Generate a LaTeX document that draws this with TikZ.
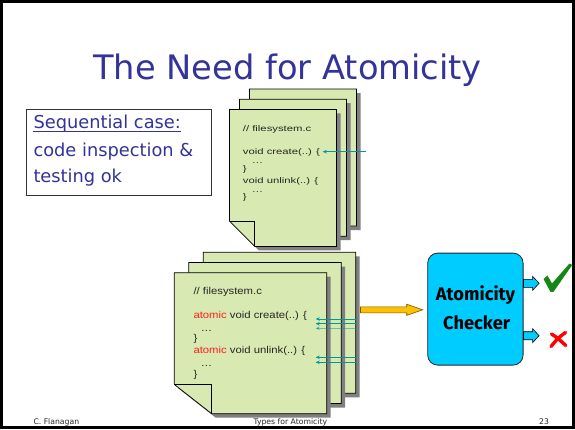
\documentclass[tikz,border=0pt]{standalone}
\usepackage{fontspec}
\usepackage{graphicx}
\setmainfont{DejaVu Sans}
\newfontfamily\codefont{Liberation Sans}
\newfontfamily\checkfont{Fira Sans}
\usetikzlibrary{calc,arrows.meta}

\definecolor{slideblue}{RGB}{51,51,153}
\definecolor{pagegreen}{RGB}{216,233,178}
\definecolor{pageshade}{RGB}{128,128,128}
\definecolor{linkteal}{RGB}{0,153,153}
\definecolor{checkcyan}{RGB}{0,204,255}
\definecolor{feedgold}{RGB}{255,192,0}
\definecolor{feededge}{RGB}{120,90,0}
\definecolor{codered}{RGB}{255,30,30}
\definecolor{okgreen}{RGB}{20,135,20}
\definecolor{badred}{RGB}{255,0,0}

\tikzset{
  pageshadow/.style={fill=pageshade},
  pagesheet/.style={fill=pagegreen,draw=black,line width=0.7pt,line join=miter},
  pagefold/.style={draw=black,line width=0.7pt},
  codeline/.style={inner sep=0pt,anchor=base west,text=black!85,font=\codefont\fontsize{11.3}{12}\selectfont},
  linkarrow/.style={draw=linkteal,line width=0.8pt,-{Stealth[length=4pt,width=3.5pt]}},
  footer/.style={inner sep=0pt,anchor=base west,text=black!85,font=\fontsize{7.7}{9}\selectfont},
  seqline/.style={inner sep=0pt,anchor=base west,text=slideblue,font=\fontsize{17.8}{21}\selectfont},
  checkerlabel/.style={inner sep=0pt,anchor=base,font=\checkfont\bfseries\fontsize{18.3}{22}\selectfont},
  feedarrow/.style={draw=feededge,fill=feedgold,line width=0.6pt,line join=miter},
  outarrow/.style={draw=black,fill=checkcyan,line width=0.6pt,line join=miter},
}

% one sheet of paper with a folded bottom-left corner and a drop shadow
% #1,#2 top-left corner, #3 width, #4 height, #5,#6 size of the fold
\newcommand\papersheet[6]{%
  \fill[pageshadow] (#1+4,#2+4) -- (#1+#3+4,#2+4) -- (#1+#3+4,#2+#4+4)
    -- (#1+#5+4,#2+#4+4) -- (#1+4,#2+#4-#6+4) -- cycle;
  \filldraw[pagesheet] (#1,#2) -- (#1+#3,#2) -- (#1+#3,#2+#4)
    -- (#1+#5,#2+#4) -- (#1,#2+#4-#6) -- cycle;
  \draw[pagefold] (#1,#2+#4-#6) -- (#1+#5,#2+#4-#6) -- (#1+#5,#2+#4);
}

% horizontal block arrow from #2 to #3 (named points), style #1,
% shaft half-width #4, head half-width #5, head length #6 (all in pt)
\newcommand\blockarrow[6]{%
  \filldraw[#1] let \p1=(#2), \p2=(#3) in
    (\x1,\y1+#4pt) -- (\x2-#6pt,\y1+#4pt) -- (\x2-#6pt,\y1+#5pt) -- (\x2,\y1)
    -- (\x2-#6pt,\y1-#5pt) -- (\x2-#6pt,\y1-#4pt) -- (\x1,\y1-#4pt) -- cycle;
}

\begin{document}
\begin{tikzpicture}[x=1pt,y=-1pt]
\useasboundingbox (0,0) rectangle (575,429);
\fill[white] (0,0) rectangle (575,429);

% slide frame
\draw[line width=3pt] (1.5,1.5) rectangle (573.2,427.5);

% title
\node[anchor=base,inner sep=0pt,text=slideblue,font=\fontsize{33.7}{40}\selectfont] (title) at (287.5,79.3) {The Need for Atomicity};

% sequential remark
\fill[black!55] (27.3,110.6) rectangle (212,196.3);
\node[draw=black!80,fill=white,line width=0.7pt,anchor=north west,minimum width=184.7pt,minimum height=85.7pt,inner sep=0pt] (seqbox) at (26,109.3) {};
\node[seqline] (seq1) at (33.3,128.7) {Sequential case:};
\draw[slideblue,line width=0.8pt] ([yshift=-3pt]seq1.base west) -- ([yshift=-3pt]seq1.base east);
\node[seqline] (seq2) at (33.3,156.7) {code inspection \&};
\node[seqline] (seq3) at (33.3,182.7) {testing ok};

% sequential source file
\papersheet{249.5}{89}{107}{137}{25.3}{25.3}
\papersheet{239.5}{99.2}{107}{137}{25.3}{25.3}
\papersheet{229.5}{109.4}{107}{137}{25.3}{25.3}
\node[codeline] (s1) at (242.7,131.5) {\scalebox{1}[0.72]{// filesystem.c}};
\node[codeline] (s2) at (242.7,154.5) {\scalebox{1}[0.72]{void create(..) \{}};
\node[codeline] (s3) at (251.7,163.8) {\scalebox{1}[0.72]{…}};
\node[codeline] (s4) at (242.7,171.8) {\scalebox{1}[0.72]{\}}};
\node[codeline] (s5) at (242.7,183) {\scalebox{1}[0.72]{void unlink(..) \{}};
\node[codeline] (s6) at (251.7,192.3) {\scalebox{1}[0.72]{…}};
\node[codeline] (s7) at (242.7,199.3) {\scalebox{1}[0.72]{\}}};
\coordinate (sq0) at (365.7,151.7);
\coordinate (sq1) at (322.7,151.7);
\draw[linkarrow] (sq0) -- (sq1);

% concurrent source file
\papersheet{203.3}{252.3}{152.4}{141}{37.4}{29.3}
\papersheet{188.8}{262.5}{152.4}{141}{37.4}{29.3}
\papersheet{174.3}{272.7}{152.4}{141}{37.4}{29.3}
\node[codeline] (c1) at (193.3,294.5) {\scalebox{1}[0.88]{// filesystem.c}};
\node[codeline] (c2) at (193.3,318) {\scalebox{1}[0.88]{\textcolor{codered}{atomic} void create(..) \{}};
\node[codeline] (c3) at (200.7,331) {\scalebox{1}[0.88]{…}};
\node[codeline] (c4) at (193.3,341.5) {\scalebox{1}[0.88]{\}}};
\node[codeline] (c5) at (193.3,353) {\scalebox{1}[0.88]{\textcolor{codered}{atomic} void unlink(..) \{}};
\node[codeline] (c6) at (200.7,366.7) {\scalebox{1}[0.88]{…}};
\node[codeline] (c7) at (193.3,377.5) {\scalebox{1}[0.88]{\}}};
\coordinate (t1a) at (356.7,319);   \coordinate (t1b) at (315.7,319);
\coordinate (t2a) at (356.7,323.7); \coordinate (t2b) at (315.7,323.7);
\coordinate (t3a) at (356.7,328.3); \coordinate (t3b) at (315.7,328.3);
\coordinate (t4a) at (356.7,357.3); \coordinate (t4b) at (315.7,357.3);
\coordinate (t5a) at (356.7,362.3); \coordinate (t5b) at (315.7,362.3);
\draw[linkarrow] (t1a) -- (t1b);
\draw[linkarrow] (t2a) -- (t2b);
\draw[linkarrow,draw opacity=0.5] (t3a) -- (t3b);
\draw[linkarrow] (t4a) -- (t4b);
\draw[linkarrow] (t5a) -- (t5b);

% checker
\node[draw=black!85,fill=checkcyan,line width=0.8pt,rounded corners=10pt,anchor=north west,
  minimum width=95.4pt,minimum height=112pt,inner sep=0pt] (checker) at (427.3,252.7) {};
\node[checkerlabel] (chk1) at (475.5,300) {Atomicity};
\node[checkerlabel] (chk2) at (476.7,329.3) {Checker};

% file fed into the checker
\coordinate (feedfrom) at (360.5,309.8);
\coordinate (feedto) at ([xshift=-4.6pt]checker.west |- feedfrom);
\blockarrow{feedarrow}{feedfrom}{feedto}{3}{5.6}{16}

% verdicts
\coordinate (okfrom) at (checker.east |- 0,283.3);
\coordinate (okto) at ([xshift=15.6pt]okfrom);
\coordinate (badfrom) at (checker.east |- 0,335.7);
\coordinate (badto) at ([xshift=15.6pt]badfrom);
\blockarrow{outarrow}{okfrom}{okto}{4}{7}{6.5}
\blockarrow{outarrow}{badfrom}{badto}{4}{7}{6.5}
\fill[okgreen] (543.5,279) -- (547.5,275.5) -- (552,283.5) -- (569.5,263.5) -- (572.2,265)
  -- (553.5,291.8) -- (550.5,291.8) -- cycle;
\draw[badred,line width=3.4pt,line cap=round] (551.5,334) .. controls (557,337.5) .. (565.8,345.5);
\draw[badred,line width=3.4pt,line cap=round] (565.5,332.5) .. controls (558,338) .. (551,346.5);

% footer
\node[footer] (f1) at (33.3,424.3) {C. Flanagan};
\node[footer] (f2) at (253.3,424.3) {Types for Atomicity};
\node[footer] (f3) at (539,424.3) {23};
\end{tikzpicture}
\end{document}
